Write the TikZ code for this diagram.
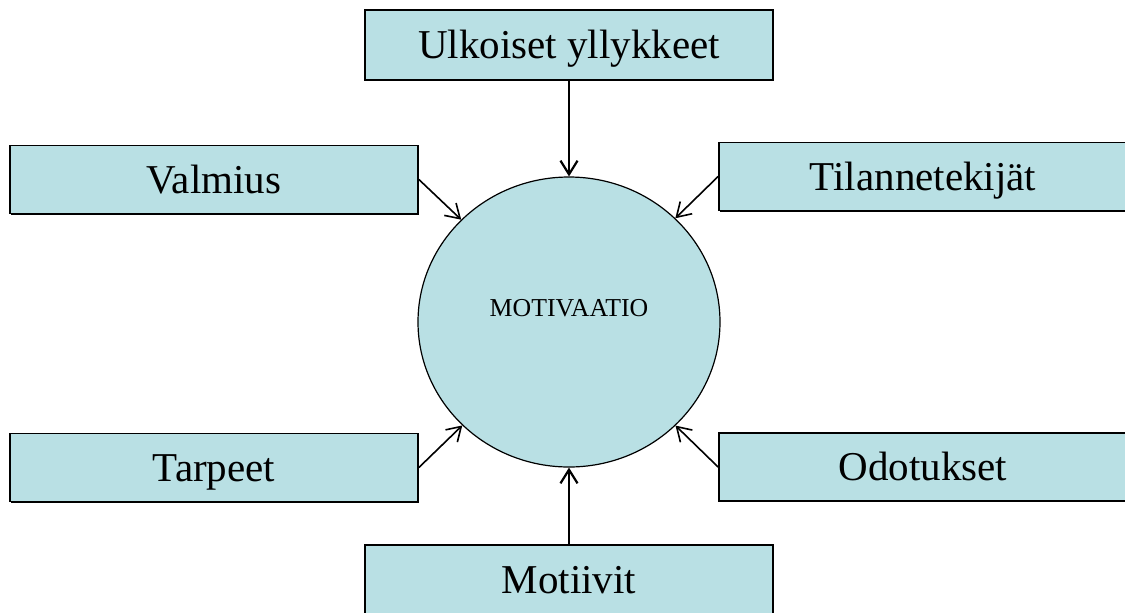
\documentclass[tikz,border=0pt]{standalone}
\usepackage{fontspec}
\setmainfont{Liberation Serif}
\usetikzlibrary{arrows.meta,shapes.geometric,shadows}
\definecolor{boxcyan}{RGB}{185,224,228}

\begin{document}
\begin{tikzpicture}[x=0.5pt, y=-0.5pt, >={Straight Barb[length=2.4mm,width=3mm]},
	box/.style={draw, fill=boxcyan, line width=0.9pt, minimum width=204pt, minimum height=34pt,
		text height=13.6pt, text depth=0pt, font=\fontsize{20.5}{24}\selectfont,
		drop shadow={shadow xshift=0.7pt, shadow yshift=-0.7pt, opacity=1, fill=black}},
	link/.style={->, line width=0.8pt}]
	\useasboundingbox (0,0) rectangle (1125,612);
	\node[ellipse, draw, fill=boxcyan, line width=0.6pt, minimum width=151pt, minimum height=145pt] (mot) at (569,322) {};
	\node[font=\fontsize{12.9}{15}\selectfont] (motlabel) at ([yshift=7pt]mot.center) {MOTIVAATIO};
	\node[box, minimum height=35pt] (ulk) at (569,45) {Ulkoiset yllykkeet};
	\node[box] (val) at (214,179.5) {Valmius};
	\node[box] (til) at (923,176.5) {Tilannetekijät};
	\node[box] (tar) at (214,467.5) {Tarpeet};
	\node[box] (odo) at (923,467) {Odotukset};
	\node[box, minimum height=35pt] (mtv) at (569,580) {Motiivit};
	\draw[link, line width=1.1pt] (ulk.south) -- (mot.north);
	\draw[link, line width=1.1pt] (mtv.north) -- (mot.south);
	\draw[link] (val.east) -- (mot);
	\draw[link] (til.west) -- (mot);
	\draw[link] (tar.east) -- (mot);
	\draw[link] (odo.west) -- (mot);
\end{tikzpicture}
\end{document}
